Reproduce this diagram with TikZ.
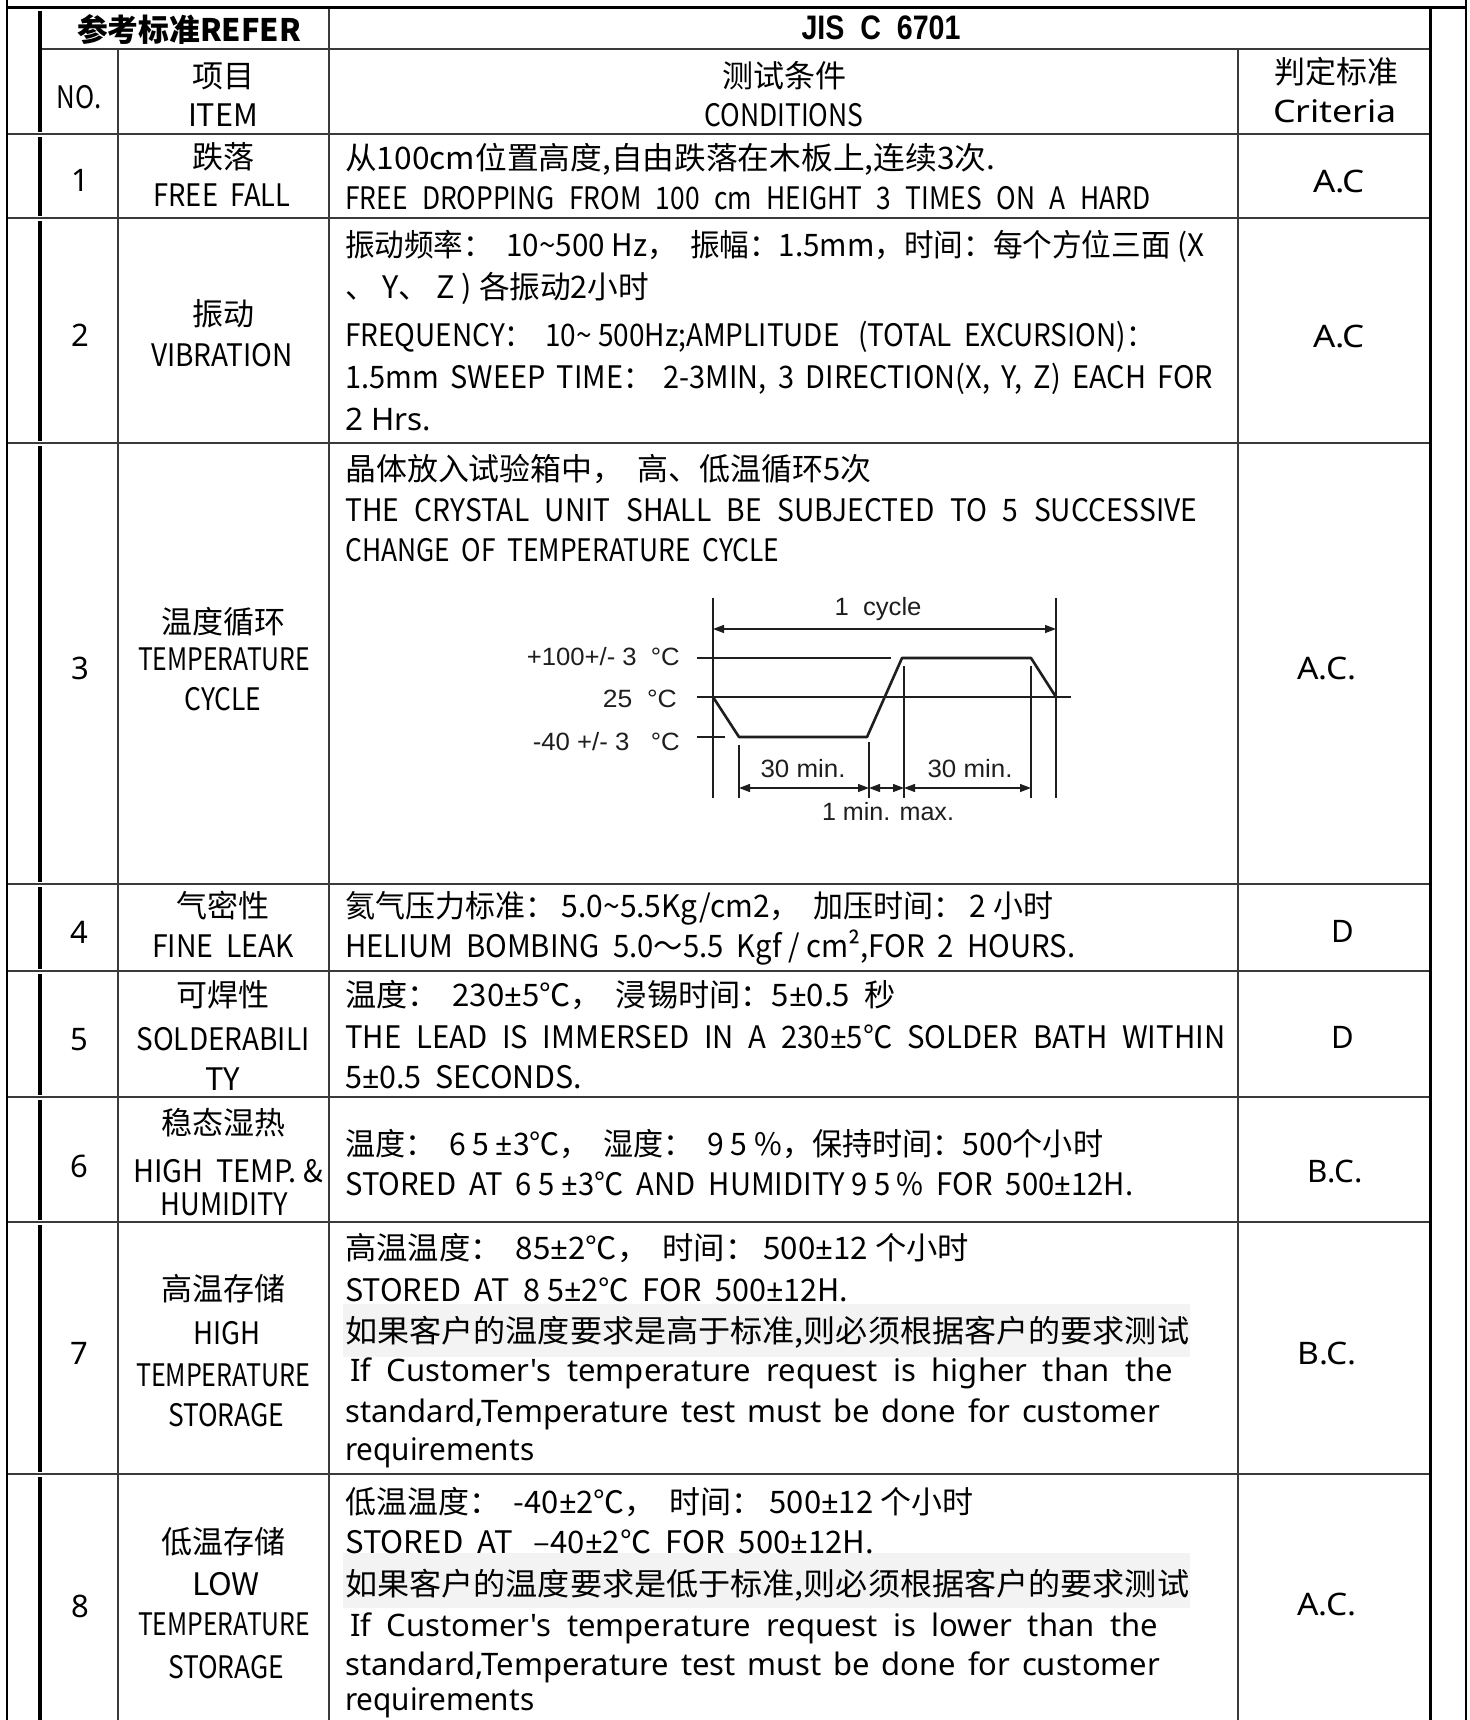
\documentclass[tikz,border=0pt]{standalone}
\usepackage{fontspec}
\usepackage{graphicx}
\usetikzlibrary{arrows.meta}
\setmainfont{Noto Sans CJK SC}
\newfontfamily\arialf{Liberation Sans}
\newfontfamily\latf{Noto Sans}
\definecolor{gridc}{HTML}{3A3A3A}
\definecolor{hlc}{HTML}{F3F3F3}
\definecolor{dgc}{HTML}{1E1E1E}
\newsavebox\fitbox
\newcommand\fitw[2]{\sbox\fitbox{#2}\pgfmathsetmacro\fitf{#1/\the\wd\fitbox}\scalebox{\fitf}[1]{\usebox\fitbox}}
\newcommand\jf[2]{\sbox\fitbox{#2}\ifdim\wd\fitbox<#1pt\relax\makebox[#1pt][s]{#2}\else\fitw{#1}{#2}\fi}
\newcommand\sw[3]{\fitw{#1}{\spaceskip=#2em\relax #3}}
\newcommand\pmx{{\latf ±}}
\newcommand\fsA{\fontsize{31}{37}\selectfont}
\newcommand\fsL{\latf\fontsize{31}{37}\selectfont}
\newcommand\fsD{\arialf\fontsize{25}{29}\selectfont}
\tikzset{
  grid/.style={draw=gridc, line width=1.4pt},
  thickv/.style={draw=black, line width=3.6pt},
  outer/.style={draw=black, line width=2pt},
  lt/.style={anchor=base west, inner sep=0pt, font=\fsA},
  ct/.style={anchor=base, inner sep=0pt, font=\fsA},
  ll/.style={anchor=base west, inner sep=0pt, font=\fsL},
  cl/.style={anchor=base, inner sep=0pt, font=\fsL},
  dt/.style={inner sep=0pt, font=\fsD, text=dgc},
  dthin/.style={draw=dgc, line width=1.3pt},
  wave/.style={draw=dgc, line width=2.6pt, line join=round},
  dimarr/.style={draw=dgc, line width=1.3pt, {Triangle[length=11pt,width=8pt]}-{Triangle[length=11pt,width=8pt]}},
}
\begin{document}
\begin{tikzpicture}[x=1pt,y=-1pt]
\fill[white] (0,0) rectangle (1469,1720);
\useasboundingbox (0,0) rectangle (1469,1720);
% highlights
\fill[hlc] (343,1304) rectangle (1190,1357);
\fill[hlc] (343,1553) rectangle (1190,1608);
% horizontal grid lines
\draw[grid] (40,49) -- (1430,49);
\foreach \yy in {134,218,443,884,971,1097,1222,1474}{\draw[grid] (7,\yy) -- (1430,\yy);}
% vertical grid lines
\draw[grid] (118,49) -- (118,1720);
\draw[grid] (329,8) -- (329,1720);
\draw[grid] (1238,49) -- (1238,1720);
\draw[draw=black, line width=3pt] (1430,8) -- (1430,1720);
\draw[outer] (7,0) -- (7,1720);
\draw[outer] (1466,0) -- (1466,1720);
\draw[draw=black, line width=3pt] (6,8) -- (1467,8);
% thick left segments
\foreach \ya/\yb in {11/132,137/216,221/441,446/882,887/969,974/1095,1100/1220,1225/1472,1477/1720}{\draw[thickv] (40,\ya) -- (40,\yb);}
% header
\node[ct, font=\fsA\bfseries] (refer) at (189,42) {\fitw{224}{参考标准REFER}};
\node[ct, font=\arialf\bfseries\fontsize{34}{38}\selectfont] (jis) at (881,40) {\fitw{159}{JIS\ \ C\ \ 6701}};
\node[ct] (hno) at (79,109) {\fitw{45}{NO.}};
\node[ct] (hitem1) at (223,88) {项目};
\node[ct] (hitem2) at (223,127) {\fitw{70}{ITEM}};
\node[ct] (hcond1) at (784,88) {测试条件};
\node[ct] (hcond2) at (784,127) {\fitw{159}{CONDITIONS}};
\node[ct] (hcrit1) at (1336,84) {判定标准};
\node[cl] (hcrit2) at (1335,123) {\fitw{124}{Criteria}};
% row 1
\node[cl] (n1) at (80,192) {1};
\node[ct] (i1a) at (223,169) {跌落};
\node[ct] (i1b) at (222,207) {\fitw{137}{FREE\ \ FALL}};
\node[lt] (c1a) at (345,170) {\fitw{650}{从100cm位置高度,自由跌落在木板上,连续3次.}};
\node[lt] (c1b) at (345,210) {\sw{805}{0.55}{FREE DROPPING FROM 100 cm HEIGHT 3 TIMES ON A HARD}};
\node[cl] (r1) at (1339,193) {\fitw{52}{A.C}};
% row 2
\node[cl] (n2) at (80,346) {2};
\node[ct] (i2a) at (223,325) {振动};
\node[ct] (i2b) at (222,366) {\fitw{142}{VIBRATION}};
\node[lt] (c2a) at (345,257) {\fitw{859}{振动频率：\ \ 10\textasciitilde500 Hz，\ \ 振幅：1.5mm，时间：每个方位三面 (X}};
\node[lt] (c2b) at (345,298) {\fitw{304}{、 Y、 Z ) 各振动2小时}};
\node[lt] (c2c) at (345,346) {\fitw{809}{FREQUENCY：\ \ 10\textasciitilde\ 500Hz;AMPLITUDE\ \ \ (TOTAL\ \ EXCURSION)：}};
\node[lt] (c2d) at (345,388) {\sw{868}{0.4}{1.5mm SWEEP TIME： 2-3MIN, 3 DIRECTION(X, Y, Z) EACH FOR}};
\node[ll] (c2e) at (345,430) {\fitw{86}{2 Hrs.}};
\node[cl] (r2) at (1339,347) {\fitw{52}{A.C}};
% row 3
\node[cl] (n3) at (80,679) {3};
\node[ct] (i3a) at (223,633) {温度循环};
\node[ct] (i3b) at (224,670) {\fitw{172}{TEMPERATURE}};
\node[ct] (i3c) at (223,710) {\fitw{77}{CYCLE}};
\node[lt] (c3a) at (345,480) {\fitw{526}{晶体放入试验箱中，\ \ 高、低温循环5次}};
\node[lt] (c3b) at (345,521) {\sw{852}{0.55}{THE CRYSTAL UNIT SHALL BE SUBJECTED TO 5 SUCCESSIVE}};
\node[lt] (c3c) at (345,561) {\fitw{434}{CHANGE\ \ OF\ \ TEMPERATURE\ \ CYCLE}};
\node[cl] (r3) at (1327,679) {\fitw{59}{A.C.}};
% diagram
\coordinate (vLt) at (713,598); \coordinate (vLb) at (713,798);
\coordinate (vRt) at (1056,598); \coordinate (vRb) at (1056,798);
\coordinate (v1t) at (739,745); \coordinate (v1b) at (739,798);
\coordinate (v2t) at (869,742); \coordinate (v2b) at (869,798);
\coordinate (v3t) at (904,666); \coordinate (v3b) at (904,798);
\coordinate (v4t) at (1031,666); \coordinate (v4b) at (1031,798);
\draw[dthin] (vLt) -- (vLb);
\draw[dthin] (vRt) -- (vRb);
\draw[dthin] (v1t) -- (v1b);
\draw[dthin] (v2t) -- (v2b);
\draw[dthin] (v3t) -- (v3b);
\draw[dthin] (v4t) -- (v4b);
\coordinate (h100a) at (697,658); \coordinate (h100b) at (891,658);
\coordinate (h25a) at (697,697); \coordinate (h25b) at (1071,697);
\coordinate (h40a) at (697,737); \coordinate (h40b) at (725,737);
\draw[dthin] (h100a) -- (h100b);
\draw[dthin] (h25a) -- (h25b);
\draw[dthin] (h40a) -- (h40b);
\coordinate (w0) at (713,697); \coordinate (w1) at (739,737); \coordinate (w2) at (867,737);
\coordinate (w3) at (902,658); \coordinate (w4) at (1031,658); \coordinate (w5) at (1056,697);
\draw[wave] (w0) -- (w1) -- (w2) -- (w3) -- (w4) -- (w5);
\coordinate (cyL) at (713,629); \coordinate (cyR) at (1056,629);
\draw[dimarr] (cyL) -- (cyR);
\coordinate (a1) at (739,788); \coordinate (a2) at (869,788);
\coordinate (a3) at (904,788); \coordinate (a4) at (1031,788);
\draw[dimarr] (a1) -- (a2);
\draw[dimarr] (a2) -- (a3);
\draw[dimarr] (a3) -- (a4);
\node[dt, anchor=base] (cyc) at (878,615) {\fitw{87}{1\ \ cycle}};
\node[dt, anchor=base east] (t100) at (680,665) {\fitw{153}{+100+/- 3\ \ °C}};
\node[dt, anchor=base east] (t25) at (677,707) {\fitw{74}{25\ \ °C}};
\node[dt, anchor=base east] (t40) at (680,750) {\fitw{147}{-40 +/- 3\ \ \ °C}};
\node[dt, anchor=base] (m30a) at (803,777) {\fitw{85}{30 min.}};
\node[dt, anchor=base] (m30b) at (970,777) {\fitw{85}{30 min.}};
\node[dt, anchor=base] (m1) at (888,820) {\fitw{132}{1 min. max.}};
% row 4
\node[cl] (n4) at (79,943) {4};
\node[ct] (i4a) at (223,917) {气密性};
\node[ct] (i4b) at (223,957) {\fitw{142}{FINE\ \ LEAK}};
\node[lt] (c4a) at (345,917) {\fitw{708}{氦气压力标准：\ 5.0\textasciitilde5.5Kg/cm2，\ \ 加压时间：\ 2 小时}};
\node[lt] (c4b) at (345,957) {\fitw{730}{HELIUM\ \ BOMBING\ \ 5.0～5.5\ \ Kgf\ /\ cm²,FOR\ \ 2\ \ HOURS.}};
\node[cl] (r4) at (1343,942) {D};
% row 5
\node[cl] (n5) at (79,1050) {5};
\node[ct] (i5a) at (223,1006) {可焊性};
\node[ct] (i5b) at (223,1050) {\fitw{173}{SOLDERABILI}};
\node[ct] (i5c) at (223,1090) {TY};
\node[lt] (c5a) at (345,1006) {\fitw{550}{温度：\ \ 230\pmx5℃，\ \ 浸锡时间：5\pmx0.5\ \ 秒}};
\node[lt] (c5b) at (345,1048) {\sw{880}{0.5}{THE LEAD IS IMMERSED IN A 230\pmx5℃ SOLDER BATH WITHIN}};
\node[lt] (c5c) at (345,1088) {\fitw{237}{5\pmx0.5\ \ SECONDS.}};
\node[cl] (r5) at (1343,1048) {D};
% row 6
\node[cl] (n6) at (79,1177) {6};
\node[ct] (i6a) at (223,1134) {稳态湿热};
\node[ct] (i6b) at (228,1182) {\fitw{190}{HIGH\ \ TEMP.\ \&}};
\node[ct] (i6c) at (224,1215) {\fitw{127}{HUMIDITY}};
\node[lt] (c6a) at (345,1155) {\fitw{758}{温度：\ \ 6 5 \pmx3℃，\ \ 湿度：\ \ 9 5 \%，保持时间：500个小时}};
\node[lt] (c6b) at (345,1195) {\fitw{788}{STORED\ \ AT\ \ 6 5 \pmx3℃\ \ AND\ \ HUMIDITY 9 5 \%\ \ FOR\ \ 500\pmx12H.}};
\node[cl] (r6) at (1335,1182) {\fitw{55}{B.C.}};
% row 7
\node[cl] (n7) at (79,1364) {7};
\node[ct] (i7a) at (223,1300) {高温存储};
\node[ct] (i7b) at (227,1344) {\fitw{67}{HIGH}};
\node[ct] (i7c) at (223,1386) {\fitw{174}{TEMPERATURE}};
\node[ct] (i7d) at (226,1426) {\fitw{116}{STORAGE}};
\node[lt] (c7a) at (345,1259) {\fitw{624}{高温温度：\ \ 85\pmx2℃，\ \ 时间：\ 500\pmx12 个小时}};
\node[lt] (c7b) at (345,1301) {\fitw{503}{STORED\ \ AT\ \ 8 5\pmx2℃\ \ FOR\ \ 500\pmx12H.}};
\node[lt] (c7c) at (345,1342) {\fitw{844}{如果客户的温度要求是高于标准,则必须根据客户的要求测试}};
\node[ll] (c7d) at (350,1381) {\jf{823}{If Customer's temperature request is higher than the}};
\node[ll] (c7e) at (345,1422) {\jf{815}{standard,Temperature test must be done for customer}};
\node[ll] (c7f) at (345,1460) {\fitw{189}{requirements}};
\node[cl] (r7) at (1327,1364) {\fitw{59}{B.C.}};
% row 8
\node[cl] (n8) at (80,1617) {8};
\node[ct] (i8a) at (223,1553) {低温存储};
\node[ct] (i8b) at (226,1595) {\fitw{68}{LOW}};
\node[ct] (i8c) at (224,1635) {\fitw{172}{TEMPERATURE}};
\node[ct] (i8d) at (226,1678) {\fitw{116}{STORAGE}};
\node[lt] (c8a) at (345,1513) {\fitw{628}{低温温度：\ \ -40\pmx2℃，\ \ 时间：\ 500\pmx12 个小时}};
\node[lt] (c8b) at (345,1553) {\fitw{529}{STORED\ \ AT\ \ \ –40\pmx2℃\ \ FOR\ \ 500\pmx12H.}};
\node[lt] (c8c) at (345,1595) {\fitw{844}{如果客户的温度要求是低于标准,则必须根据客户的要求测试}};
\node[ll] (c8d) at (350,1636) {\jf{808}{If Customer's temperature request is lower than the}};
\node[ll] (c8e) at (345,1675) {\jf{815}{standard,Temperature test must be done for customer}};
\node[ll] (c8f) at (345,1710) {\fitw{189}{requirements}};
\node[cl] (r8) at (1327,1615) {\fitw{59}{A.C.}};
\end{tikzpicture}
\end{document}
